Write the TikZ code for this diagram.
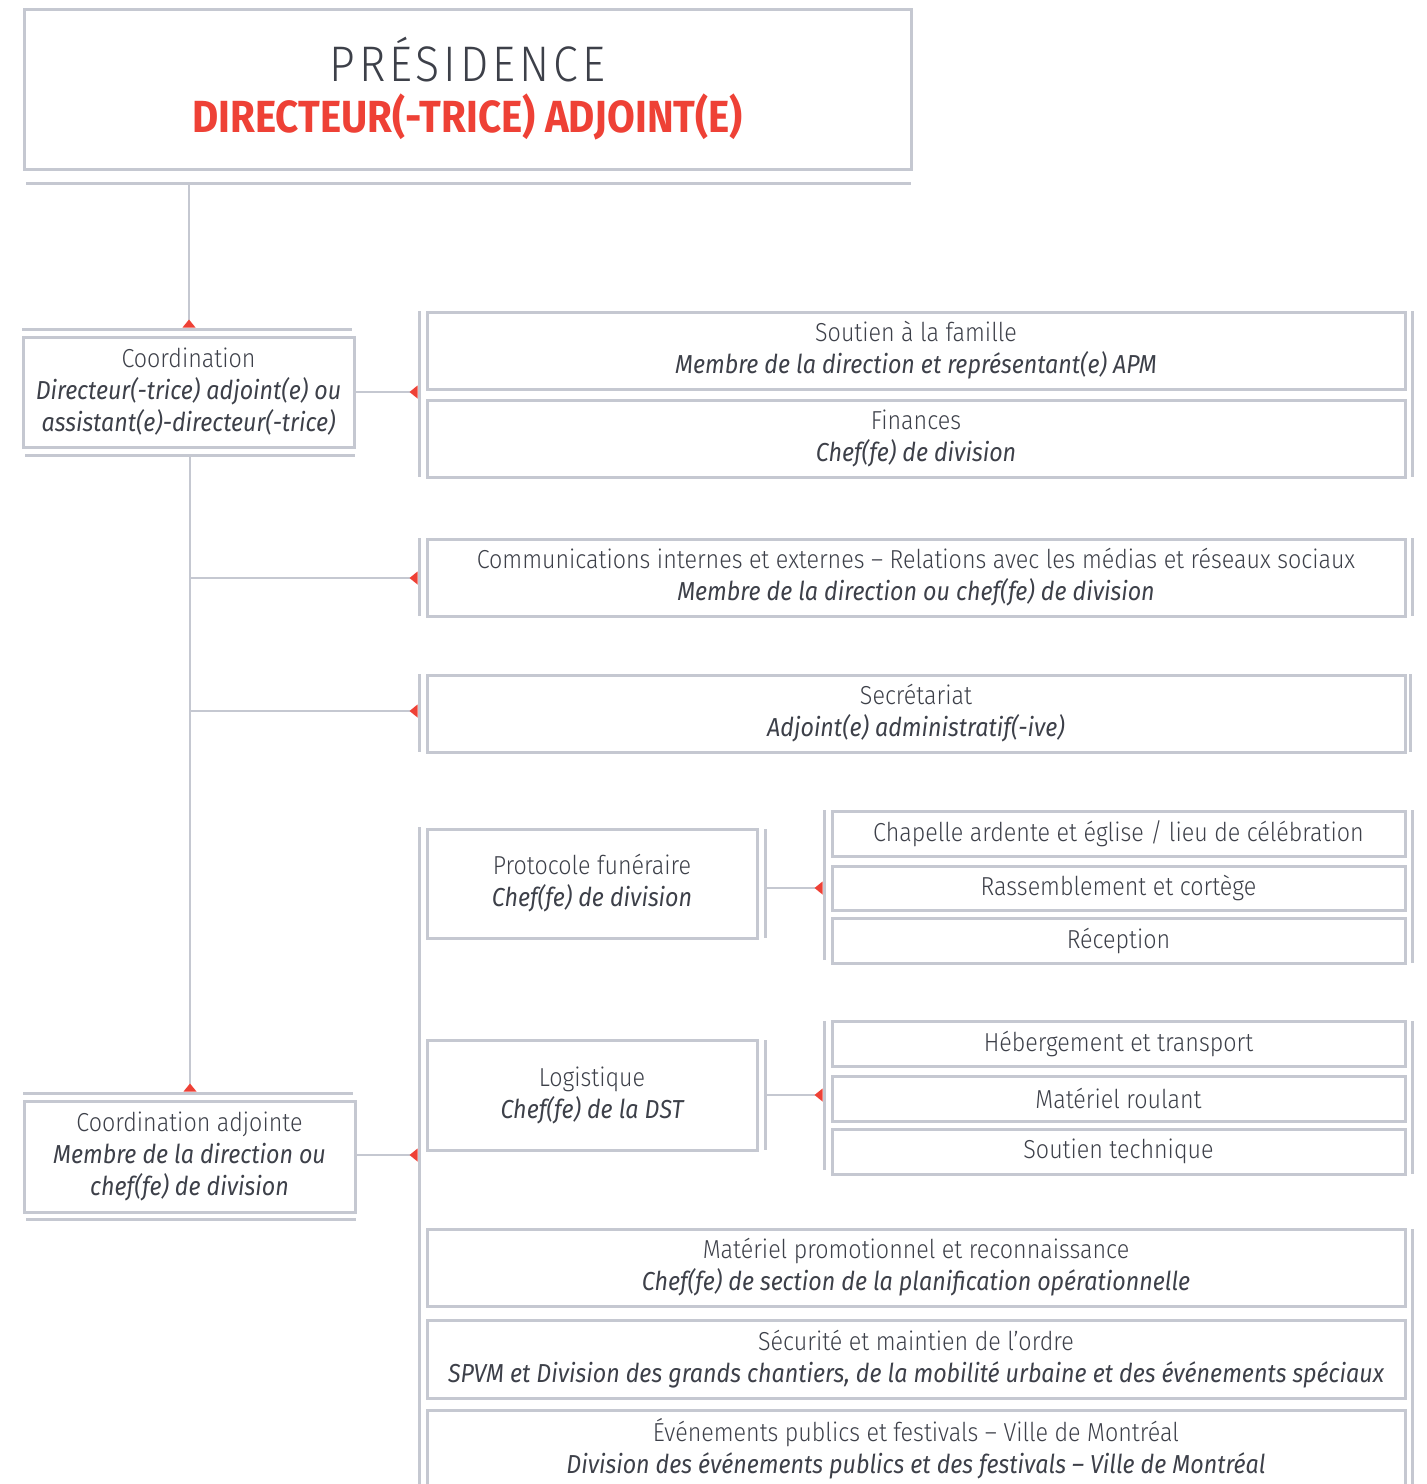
\documentclass[tikz,border=0pt]{standalone}
\usepackage{fontspec}
\setmainfont{Fira Sans}[UprightFont=* Light, ItalicFont=* Italic, BoldFont=* Bold, BoldItalicFont=* Bold Italic, FakeStretch=0.895]
\usetikzlibrary{arrows.meta}
\definecolor{lg}{HTML}{C5C8D1}
\definecolor{tx}{HTML}{3D4049}
\definecolor{rd}{HTML}{EE4136}
\tikzset{
  box/.style={draw=lg, line width=3pt, inner sep=0pt, align=center, text=tx, font=\fontsize{26}{32}\selectfont},
  bar/.style={draw=lg, line width=3pt},
  conn/.style={draw=lg, line width=2.5pt, -{Triangle[reversed, length=8pt, width=13pt, color=rd, line width=0pt]}},
}
\newcommand\bxn[6]{\node[box, minimum width=#3pt, minimum height=#4pt] (#1) at (#2) {#5\\\itshape #6};}
\newcommand\bxs[5]{\node[box, minimum width=#3pt, minimum height=#4pt] (#1) at (#2) {#5};}
\begin{document}
\begin{tikzpicture}[x=1pt, y=-1pt]
\useasboundingbox (0,0) rectangle (1427,1484);
% top box
\node[box, minimum width=887pt, minimum height=160pt, font=\fontsize{45}{51}\selectfont] (pres) at (467.5,89)
  {{\fontsize{50}{51}\selectfont\addfontfeatures{LetterSpace=8}PRÉSIDENCE}\\{\bfseries\color{rd}DIRECTEUR(-TRICE) ADJOINT(E)}};
\coordinate (tb1) at (26,183); \coordinate (tb2) at (911,183);
\draw[bar] (tb1) -- (tb2);
% coordination
\coordinate (b1a) at (22,329); \coordinate (b1b) at (352,329);
\draw[bar] (b1a) -- (b1b);
\bxn{coord}{188.5,392}{331}{110}{Coordination}{Directeur(-trice) adjoint(e) ou\\\itshape assistant(e)-directeur(-trice)}
\coordinate (b2a) at (25,455); \coordinate (b2b) at (355,455);
\draw[bar] (b2a) -- (b2b);
\coordinate (t0) at (189,184.5); \coordinate (t1) at (189,327.5);
\draw[conn] (t0) -- (t1);
% coordination adjointe
\coordinate (b3a) at (23,1093); \coordinate (b3b) at (353,1093);
\draw[bar] (b3a) -- (b3b);
\bxn{adj}{189.5,1156.5}{331}{111}{Coordination adjointe}{Membre de la direction ou\\\itshape chef(fe) de division}
\coordinate (b4a) at (26,1219); \coordinate (b4b) at (356,1219);
\draw[bar] (b4a) -- (b4b);
\coordinate (tr0) at (190,456.5); \coordinate (tr1) at (190,1091.5);
\draw[conn] (tr0) -- (tr1);
% group A
\coordinate (bA1) at (419,311); \coordinate (bA2) at (419,477);
\draw[bar] (bA1) -- (bA2);
\coordinate (rA1) at (1412,311); \coordinate (rA2) at (1412,477);
\draw[bar] (rA1) -- (rA2);
\bxn{sout}{916,350.5}{978}{77}{Soutien à la famille}{Membre de la direction et représentant(e) APM}
\bxn{fin}{916,438.5}{978}{77}{Finances}{Chef(fe) de division}
\draw[conn] (coord.east) -- ([xshift=-1.5pt]coord.east -| bA1);
% group B
\coordinate (bB1) at (419,538); \coordinate (bB2) at (419,616);
\draw[bar] (bB1) -- (bB2);
\coordinate (rB1) at (1412,538); \coordinate (rB2) at (1412,616);
\draw[bar] (rB1) -- (rB2);
\bxn{comm}{916,577.5}{978}{77}{Communications internes et externes – Relations avec les médias et réseaux sociaux}{Membre de la direction ou chef(fe) de division}
\coordinate (jB) at (190,578);
\draw[conn] (jB) -- ([xshift=-1.5pt]jB -| bB1);
% group C
\coordinate (bC1) at (419,674); \coordinate (bC2) at (419,752);
\draw[bar] (bC1) -- (bC2);
\coordinate (rC1) at (1410,674); \coordinate (rC2) at (1410,752);
\draw[bar] (rC1) -- (rC2);
\bxn{secr}{916,713.5}{978}{77}{Secrétariat}{Adjoint(e) administratif(-ive)}
\coordinate (jC) at (190,711);
\draw[conn] (jC) -- ([xshift=-1.5pt]jC -| bC1);
% group D
\coordinate (bD1) at (419,827); \coordinate (bD2) at (419,1490);
\draw[bar] (bD1) -- (bD2);
\draw[conn] ([yshift=1.5pt]adj.east) -- ([xshift=-1.5pt,yshift=1.5pt]adj.east -| bD1);
\bxn{proto}{592,883.5}{330}{109}{Protocole funéraire}{Chef(fe) de division}
\coordinate (pR1) at (765,829); \coordinate (pR2) at (765,938);
\draw[bar] (pR1) -- (pR2);
\coordinate (bE1) at (824,810); \coordinate (bE2) at (824,960);
\draw[bar] (bE1) -- (bE2);
\coordinate (rE1) at (1412,810); \coordinate (rE2) at (1412,963);
\draw[bar] (rE1) -- (rE2);
\bxs{chap}{1118.5,833.5}{573}{45}{Chapelle ardente et église / lieu de célébration}
\bxs{rass}{1118.5,888}{573}{44}{Rassemblement et cortège}
\bxs{recp}{1118.5,940.5}{573}{45}{Réception}
\coordinate (pj) at (766.5,888);
\draw[conn] (pj) -- ([xshift=-1.5pt]pj -| bE1);
\bxn{logi}{592,1095}{330}{110}{Logistique}{Chef(fe) de la DST}
\coordinate (lR1) at (765,1040); \coordinate (lR2) at (765,1150);
\draw[bar] (lR1) -- (lR2);
\coordinate (bF1) at (824,1021); \coordinate (bF2) at (824,1170);
\draw[bar] (bF1) -- (bF2);
\coordinate (rF1) at (1412,1021); \coordinate (rF2) at (1412,1174);
\draw[bar] (rF1) -- (rF2);
\bxs{hebe}{1118.5,1043.5}{573}{45}{Hébergement et transport}
\bxs{matr}{1118.5,1098.5}{573}{45}{Matériel roulant}
\bxs{stec}{1118.5,1151.5}{573}{45}{Soutien technique}
\coordinate (lj) at (766.5,1095);
\draw[conn] (lj) -- ([xshift=-1.5pt]lj -| bF1);
\bxn{promo}{916,1267.5}{978}{77}{Matériel promotionnel et reconnaissance}{Chef(fe) de section de la planification opérationnelle}
\bxn{secu}{916,1359}{978}{78}{Sécurité et maintien de l’ordre}{SPVM et Division des grands chantiers, de la mobilité urbaine et des événements spéciaux}
\bxn{even}{916,1448.5}{978}{77}{Événements publics et festivals – Ville de Montréal}{Division des événements publics et des festivals – Ville de Montréal}
\coordinate (rG1) at (1412,1229); \coordinate (rG2) at (1412,1490);
\draw[bar] (rG1) -- (rG2);
\end{tikzpicture}
\end{document}
